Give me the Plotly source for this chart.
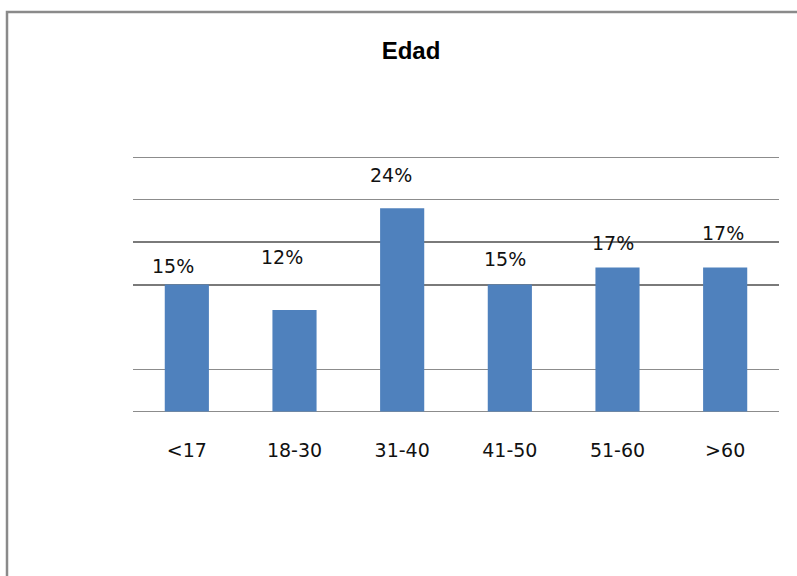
import plotly.graph_objects as go

# Age distribution of respondents
categories = ["<17", "18-30", "31-40", "41-50", "51-60", ">60"]
percent = [15, 12, 24, 15, 17, 17]

# Per-label pixel offsets of the value labels relative to the top of each bar
label_dx = [-14, -13, -11, -5, -5, -2]
label_dy = [19, 53, 33, 26, 25, 35]

W, H = 797, 576
PAD = 0.3  # small y padding so the 0 and 30 gridlines are not clipped
L, R, T, B = 133, 18, 155, 162
pw, ph = W - L - R, H - T - B

fig = go.Figure(
    go.Bar(
        x=categories,
        y=percent,
        marker=dict(color="#4F81BD", line=dict(width=0)),
        width=0.41,
        hoverinfo="skip",
    )
)

for cat, v, dx, dy in zip(categories, percent, label_dx, label_dy):
    fig.add_annotation(
        x=cat, y=v, text=f"{v}%", showarrow=False,
        xanchor="center", yanchor="middle",
        xshift=dx, yshift=dy,
        font=dict(family="DejaVu Sans", size=19, color="#111111"),
    )

# outer frame of the chart area
fig.add_shape(
    type="rect", xref="paper", yref="paper",
    x0=(7 - L) / pw, x1=(W + 20 - L) / pw,
    y0=-(H + 20 - T - ph) / ph, y1=1 + (T - 12) / ph,
    line=dict(color="#8a8a8a", width=2.5), fillcolor="rgba(0,0,0,0)",
    layer="below",
)

fig.update_layout(
    width=W, height=H,
    margin=dict(l=L, r=R, t=T, b=B),
    paper_bgcolor="white", plot_bgcolor="white",
    showlegend=False,
    title=dict(
        text="<b>Edad</b>", x=411 / W, xanchor="center",
        y=1 - 51 / H, yanchor="middle",
        font=dict(family="Liberation Sans", size=24, color="#000000"),
    ),
    xaxis=dict(
        showgrid=False, showline=False, zeroline=False,
        ticks="outside", ticklen=19, tickcolor="rgba(0,0,0,0)",
        tickfont=dict(family="DejaVu Sans", size=19, color="#111111"),
    ),
    yaxis=dict(
        range=[-PAD, 30 + PAD], showticklabels=False, zeroline=False, showline=False,
        tickvals=[0, 5, 25, 30], showgrid=True, gridcolor="#8c8c8c", gridwidth=1,
        minor=dict(tickvals=[15, 20], showgrid=True, gridcolor="#7a7a7a", gridwidth=2),
    ),
)

fig.write_html("out.html")
